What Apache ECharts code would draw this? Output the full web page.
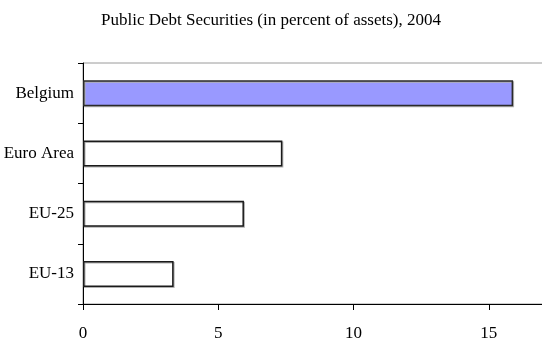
<!DOCTYPE html>
<html>
<head>
<meta charset="utf-8">
<script src="https://cdn.jsdelivr.net/npm/echarts@6/dist/echarts.min.js"></script>
<style>
  html, body { margin: 0; padding: 0; background: #fff; }
  #chart { width: 542px; height: 346px; }
</style>
</head>
<body>
<div id="chart"></div>
<script>
// Public debt securities held, in percent of assets, 2004
const chartTitle = 'Public Debt Securities (in percent of assets), 2004';
const categories = ['Belgium', 'Euro Area', 'EU-25', 'EU-13'];
const values = [15.9, 7.37, 5.95, 3.35];
const highlighted = 'Belgium';
const xTicks = [0, 5, 10, 15];

const FONT = '"Liberation Serif", "Times New Roman", serif';

const chart = echarts.init(document.getElementById('chart'), null, { renderer: 'canvas' });

const barData = categories.map((c, i) => ({
  value: values[i],
  itemStyle: c === highlighted
    ? { color: '#9999ff', borderColor: '#2a2a2a' }
    : { color: '#ffffff', borderColor: '#1a1a1a' }
}));

chart.setOption({
  animation: false,
  backgroundColor: '#ffffff',
  title: {
    text: chartTitle,
    left: 'center',
    top: 7,
    textStyle: { fontFamily: FONT, fontSize: 17, fontWeight: 'normal', color: '#000' }
  },
  grid: {
    left: 83,
    top: 63,
    width: 541,
    height: 241,
    outerBoundsMode: 'none',
    containLabel: false,
    show: true,
    borderColor: '#9a9a9a',
    borderWidth: 1,
    backgroundColor: 'transparent'
  },
  xAxis: {
    type: 'value',
    min: 0,
    max: 20,
    interval: 5,
    axisLine: { show: true, lineStyle: { color: '#000', width: 1 } },
    axisTick: { show: true, length: 6, lineStyle: { color: '#000' } },
    splitLine: { show: false },
    axisLabel: {
      margin: 21,
      color: '#000',
      fontFamily: FONT,
      fontSize: 17,
      formatter: v => (xTicks.includes(v) ? String(v) : '')
    }
  },
  yAxis: {
    type: 'category',
    inverse: true,
    data: categories,
    axisLine: { show: true, lineStyle: { color: '#000', width: 1 } },
    axisTick: { show: true, length: 5, lineStyle: { color: '#000' } },
    axisLabel: { margin: 9, color: '#000', fontFamily: FONT, fontSize: 17 }
  },
  series: [{
    type: 'bar',
    data: barData,
    barWidth: 26,
    itemStyle: {
      borderWidth: 1.5,
      shadowColor: '#b0b0b0',
      shadowOffsetX: 1,
      shadowOffsetY: 1,
      shadowBlur: 0
    }
  }]
});
</script>
</body>
</html>
